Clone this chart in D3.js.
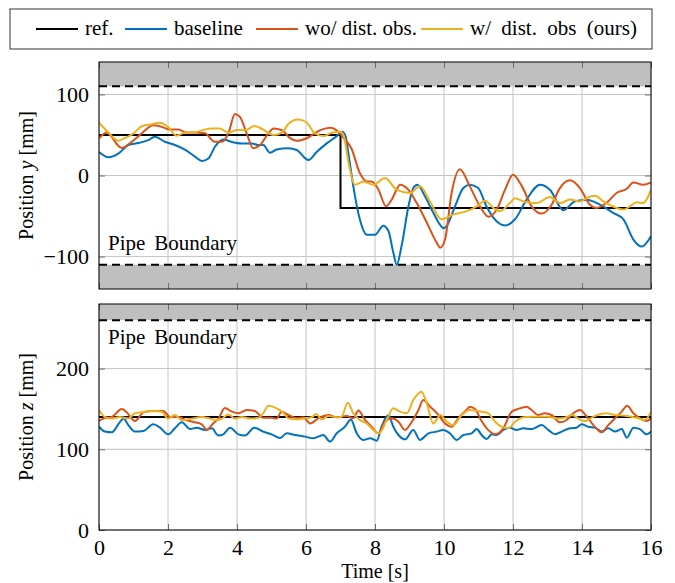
<!DOCTYPE html>
<html>
<head>
<meta charset="utf-8">
<script src="https://cdn.jsdelivr.net/npm/d3@7"></script>
<style>
  body { margin: 0; background: #fff; }
  text { font-family: "Liberation Serif", "Times New Roman", serif; }
</style>
</head>
<body>
<svg id="chart"></svg>
<script>
// ---- data ----
const timeTicks = [0, 2, 4, 6, 8, 10, 12, 14, 16];
const yTicksTop = [-100, 0, 100];
const zTicks = [0, 100, 200];
const legendLabels = ['ref.', 'baseline', 'wo/ dist. obs.', 'w/ dist. obs (ours)'];

// reference
const refTimeY = [0, 7, 7, 16];
const refY = [50, 50, -40, -40];
const refTimeZ = [0, 16];
const refZ = [140, 140];

// position y
const baselineTimeY = [0, 0.27, 0.56, 0.85, 1.14, 1.43, 1.62, 1.91, 2.2, 2.49, 2.78, 2.98, 3.17, 3.36, 3.6, 3.84, 4.14, 4.43, 4.62, 4.76, 4.96, 5.15, 5.49, 5.73, 6.07, 6.31, 6.6, 6.89, 7.05, 7.15, 7.23, 7.37, 7.56, 7.76, 8.0, 8.24, 8.39, 8.53, 8.63, 8.77, 8.97, 9.11, 9.23, 9.45, 9.69, 10.0, 10.08, 10.32, 10.56, 10.75, 10.99, 11.23, 11.43, 11.77, 12.06, 12.39, 12.78, 13.07, 13.46, 13.8, 14.14, 14.52, 14.9, 15.2, 15.49, 15.73, 16];
const baselineY = [29, 22.5, 27, 37.6, 40, 43.7, 47.8, 41.6, 37.6, 32, 23.3, 18, 21, 35.5, 44.5, 41.6, 39.6, 39.6, 37.6, 37.6, 28, 32, 33.5, 31.4, 19, 29, 39.6, 48.6, 54, 48, 27, -13, -54, -73, -73, -62, -68.5, -95, -110, -87, -38, -15.5, -11.5, -25.7, -46, -65, -62, -38, -15.5, -11.4, -15.5, -38, -52, -61.6, -54, -30, -11.4, -17.5, -42.8, -31.8, -29.8, -36, -46, -54, -79, -87.7, -75];

const woObsTimeY = [0, 0.22, 0.66, 0.95, 1.24, 1.57, 1.82, 2.06, 2.3, 2.54, 2.78, 3.07, 3.36, 3.56, 3.75, 3.94, 4.09, 4.28, 4.47, 4.67, 4.91, 5.06, 5.3, 5.54, 5.73, 6.02, 6.41, 6.7, 6.94, 7.08, 7.32, 7.56, 7.76, 7.9, 8.1, 8.32, 8.48, 8.73, 8.92, 9.21, 9.5, 9.79, 9.89, 10.03, 10.22, 10.46, 10.75, 11.04, 11.29, 11.53, 11.77, 12.0, 12.26, 12.54, 12.83, 13.12, 13.36, 13.65, 13.94, 14.23, 14.42, 14.71, 15.0, 15.29, 15.49, 15.77, 16];
const woObsY = [46, 52.7, 34, 41.6, 52, 62, 60, 56.7, 56.7, 53, 53, 52, 41.6, 41.6, 52, 76, 72, 52, 33.5, 37.5, 52, 58, 56, 46, 42.8, 46, 56, 59, 54, 47, 33, 3, -7.3, -7.3, -17.5, -38, -30, -11.4, -15.5, -34, -58, -83, -89, -79, -21.6, 7.8, -13.4, -38, -51, -42, -17.5, 0.9, -13.4, -38, -47, -36, -15.5, -6, -15.5, -36, -40, -33.8, -21.6, -16.7, -8.6, -11.4, -8.6];

const wObsTimeY = [0, 0.25, 0.56, 0.75, 1.0, 1.25, 1.5, 1.75, 2.0, 2.25, 2.5, 2.75, 3.0, 3.25, 3.5, 3.75, 4.0, 4.25, 4.5, 4.75, 5.05, 5.3, 5.5, 5.77, 6.0, 6.26, 6.5, 6.75, 7.0, 7.1, 7.25, 7.42, 7.66, 7.95, 8.29, 8.63, 9.01, 9.3, 9.59, 9.93, 10.27, 10.66, 10.95, 11.19, 11.43, 11.62, 11.91, 12.06, 12.3, 12.69, 13.07, 13.36, 13.65, 13.94, 14.14, 14.38, 14.62, 15.0, 15.2, 15.39, 15.58, 15.77, 16];
const wObsY = [65, 54, 43, 46, 52, 61, 63, 65, 60, 49, 53, 53, 56, 58, 58, 53, 56, 56, 61, 57, 50, 53, 64, 69, 66, 52, 48.6, 52.7, 54, 48, 12, -11.4, -7.3, -11.4, -3.2, -17.5, -21.6, -13.4, -31.8, -54, -48, -44, -38, -31, -40, -44, -34, -28, -32, -34, -26.5, -34, -29.7, -32, -27.7, -25, -32, -40, -42, -38, -33, -34, -17.5];

// position z
const baselineTimeZ = [0, 0.17, 0.37, 0.61, 0.71, 0.85, 1.04, 1.29, 1.57, 1.77, 2.0, 2.2, 2.4, 2.64, 2.83, 3.07, 3.27, 3.46, 3.6, 3.8, 4.04, 4.23, 4.5, 4.76, 5.0, 5.25, 5.44, 5.68, 5.97, 6.21, 6.5, 6.7, 6.89, 7.13, 7.3, 7.47, 7.66, 7.86, 8.05, 8.19, 8.39, 8.53, 8.68, 8.87, 9.11, 9.3, 9.55, 9.79, 9.98, 10.17, 10.37, 10.56, 10.8, 10.95, 11.09, 11.24, 11.38, 11.53, 11.72, 11.91, 12.1, 12.3, 12.54, 12.83, 13.02, 13.22, 13.41, 13.65, 13.84, 13.99, 14.18, 14.38, 14.57, 14.76, 14.96, 15.15, 15.3, 15.49, 15.68, 15.87, 16];
const baselineZ = [128, 122, 121, 134, 138, 130, 122, 122.7, 131, 126.8, 118.5, 126, 133.4, 125, 126.8, 124, 126, 117, 118.5, 126.8, 118.5, 117, 126.8, 121.9, 118.5, 114, 119.8, 117.7, 115.7, 113.6, 117.7, 109.5, 119.8, 128, 137, 119.8, 111.5, 113.6, 110.7, 128, 142.5, 128, 117.7, 112.3, 124, 111.5, 119.8, 121.9, 124, 119.8, 111.5, 117.7, 119.8, 125, 117.7, 112.8, 118.5, 117.7, 124, 126.8, 124, 126, 125, 130, 124, 118.5, 121.9, 126, 126.8, 131, 128, 126.8, 121.9, 126, 121.9, 125, 114.4, 126.8, 125, 118.5, 121.9];

const woObsTimeZ = [0, 0.12, 0.37, 0.66, 0.8, 1.04, 1.29, 1.57, 1.86, 2.06, 2.3, 2.54, 2.78, 2.98, 3.12, 3.31, 3.46, 3.65, 3.85, 4.04, 4.28, 4.52, 4.76, 5.0, 5.15, 5.29, 5.49, 5.73, 5.92, 6.12, 6.36, 6.65, 6.89, 7.18, 7.37, 7.52, 7.71, 7.9, 8.1, 8.29, 8.49, 8.68, 8.87, 9.07, 9.26, 9.4, 9.6, 9.84, 10.03, 10.22, 10.41, 10.65, 10.75, 10.9, 11.09, 11.28, 11.48, 11.72, 11.96, 12.15, 12.39, 12.54, 12.73, 12.92, 13.12, 13.36, 13.55, 13.75, 13.94, 14.14, 14.33, 14.57, 14.76, 14.96, 15.15, 15.31, 15.49, 15.68, 15.87, 16];
const woObsZ = [135, 138, 140, 150, 146, 135, 146, 147.5, 147.5, 140, 140, 136, 133.4, 131, 124, 132, 138, 151, 146.6, 144.6, 148.7, 147.5, 139, 139, 138, 146.6, 142.5, 138.4, 139.6, 132, 138.4, 142.5, 139.6, 141.3, 138.4, 147.9, 136.3, 128, 119.8, 134.2, 138.4, 134.2, 124, 134.2, 148.7, 161, 152.8, 142.5, 132, 128, 138.4, 148.7, 152.8, 150, 135, 124, 118.5, 126, 146.6, 150, 152.8, 148.7, 142.5, 144.6, 142.5, 133.4, 136.3, 144.6, 148.7, 140.4, 130, 121, 130, 138.4, 146.6, 154, 144.6, 138.4, 135, 138.4];

const wObsTimeZ = [0, 0.17, 0.37, 0.61, 0.85, 1.04, 1.33, 1.62, 1.82, 2.0, 2.2, 2.4, 2.69, 2.98, 3.22, 3.41, 3.56, 3.75, 3.94, 4.14, 4.38, 4.62, 4.76, 4.91, 5.15, 5.35, 5.49, 5.73, 5.97, 6.16, 6.3, 6.45, 6.65, 6.89, 7.03, 7.21, 7.37, 7.56, 7.76, 7.95, 8.12, 8.34, 8.53, 8.72, 8.92, 9.11, 9.35, 9.5, 9.69, 9.89, 10.08, 10.27, 10.51, 10.75, 11.09, 11.28, 11.48, 11.67, 11.86, 12.06, 12.3, 12.54, 12.83, 13.02, 13.26, 13.5, 13.7, 13.89, 14.08, 14.33, 14.52, 14.71, 14.96, 15.2, 15.44, 15.63, 15.82, 16];
const wObsZ = [148.7, 140, 138, 140, 138, 144.6, 146.6, 147.5, 146.6, 138, 142.5, 136, 138, 140, 138, 136, 138, 143, 138, 140, 138, 139, 144.6, 154, 150.8, 145, 138.4, 137.1, 138.4, 139.6, 143.7, 137.1, 141.3, 139.6, 140.4, 157.8, 144.6, 136.3, 132, 124, 119.8, 136.3, 150.8, 146.6, 144.6, 161, 171.4, 157, 132, 142.5, 134.2, 130, 142.5, 148.7, 146.6, 144.6, 134.2, 128, 126, 134.2, 139.6, 140.4, 140.4, 140.4, 138.4, 139.2, 142.5, 138.4, 135, 140.4, 143.3, 144.6, 142.5, 141.7, 140.4, 138.4, 136.3, 146.6];

// ---- layout ----
const width = 675;
const height = 583;
const plotLeft = 99;
const plotRight = 651;
const colors = ['#000000', '#0072BD', '#D95319', '#EDB120'];
const fontSize = 20;
const tickFontSize = 22;

const svg = d3.select('#chart').attr('width', width).attr('height', height);

const xScale = d3.scaleLinear().domain([0, 16]).range([plotLeft, plotRight]);

const zip = (ts, vs) => ts.map((t, i) => ({ t: t, v: vs[i] }));

// stretch the gaps between words so a label spans the wanted width
const fitWords = (sel, target) => {
  const len = sel.node().getComputedTextLength();
  const gaps = (sel.text().match(/ /g) || []).length;
  if (gaps > 0 && len < target) sel.attr('word-spacing', (target - len) / gaps);
};

const drawPanel = (cfg) => {
  const yScale = d3.scaleLinear().domain(cfg.domain).range([cfg.bottom, cfg.top]);
  const g = svg.append('g');
  const h = cfg.bottom - cfg.top;

  // grid
  g.selectAll('.vgrid').data(timeTicks).enter().append('line')
    .attr('x1', d => xScale(d)).attr('x2', d => xScale(d))
    .attr('y1', cfg.top).attr('y2', cfg.bottom)
    .attr('stroke', '#c4c4c4').attr('stroke-width', 1);
  g.selectAll('.hgrid').data(cfg.ticks).enter().append('line')
    .attr('x1', plotLeft).attr('x2', plotRight)
    .attr('y1', d => yScale(d)).attr('y2', d => yScale(d))
    .attr('stroke', '#c4c4c4').attr('stroke-width', 1);

  // pipe walls
  cfg.bands.forEach(b => {
    g.append('rect')
      .attr('x', plotLeft).attr('width', plotRight - plotLeft)
      .attr('y', yScale(b[1])).attr('height', yScale(b[0]) - yScale(b[1]))
      .attr('fill', '#bfbfbf');
  });

  // axes with inward ticks
  const axes = [
    d3.axisBottom(xScale).tickValues(timeTicks).tickSize(-6).tickPadding(9)
      .tickFormat(cfg.xLabels ? d3.format('d') : ''),
    d3.axisTop(xScale).tickValues(timeTicks).tickSize(-6).tickFormat(''),
    d3.axisLeft(yScale).tickValues(cfg.ticks).tickSize(-6).tickPadding(10)
      .tickFormat(d => d < 0 ? '\u2212' + Math.abs(d) : d),
    d3.axisRight(yScale).tickValues(cfg.ticks).tickSize(-6).tickFormat('')
  ];
  const pos = [
    `translate(0,${cfg.bottom})`, `translate(0,${cfg.top})`,
    `translate(${plotLeft},0)`, `translate(${plotRight},0)`
  ];
  axes.forEach((ax, i) => {
    const a = g.append('g').attr('transform', pos[i]).call(ax);
    a.attr('font-family', null);
    a.select('.domain').remove();
    a.selectAll('line').attr('stroke', '#6e6e6e');
    a.selectAll('text').attr('font-size', tickFontSize).attr('fill', '#000');
  });

  // boundary lines
  cfg.walls.forEach(w => {
    g.append('line')
      .attr('x1', plotLeft).attr('x2', plotRight)
      .attr('y1', yScale(w)).attr('y2', yScale(w))
      .attr('stroke', '#000').attr('stroke-width', 2)
      .attr('stroke-dasharray', '8,5');
  });

  // clip
  const clipId = 'clip-' + cfg.name;
  svg.append('clipPath').attr('id', clipId).append('rect')
    .attr('x', plotLeft).attr('y', cfg.top)
    .attr('width', plotRight - plotLeft).attr('height', h);

  const line = d3.line()
    .x(d => xScale(d.t))
    .y(d => yScale(d.v))
    .curve(d3.curveMonotoneX);

  const refLine = d3.line().x(d => xScale(d.t)).y(d => yScale(d.v));

  const lines = g.append('g').attr('clip-path', `url(#${clipId})`);
  lines.append('path')
    .datum(zip(cfg.ref[0], cfg.ref[1]))
    .attr('d', refLine)
    .attr('fill', 'none').attr('stroke', colors[0]).attr('stroke-width', 2);
  cfg.series.forEach((s, i) => {
    lines.append('path')
      .datum(zip(s[0], s[1]))
      .attr('d', line)
      .attr('fill', 'none')
      .attr('stroke', colors[i + 1])
      .attr('stroke-width', 2)
      .attr('stroke-linejoin', 'round');
  });

  // frame
  g.append('rect')
    .attr('x', plotLeft).attr('y', cfg.top)
    .attr('width', plotRight - plotLeft).attr('height', h)
    .attr('fill', 'none').attr('stroke', '#000').attr('stroke-width', 1);

  // label inside
  const pipe = g.append('text')
    .attr('x', 108).attr('y', cfg.pipeY)
    .attr('font-size', 21)
    .text('Pipe Boundary');
  fitWords(pipe, 129);

  // y title
  const yt = g.append('text')
    .attr('transform', `translate(33,${(cfg.top + cfg.bottom) / 2}) rotate(-90)`)
    .attr('text-anchor', 'middle')
    .attr('font-size', fontSize);
  yt.append('tspan').text('Position ');
  yt.append('tspan').attr('font-style', 'italic').text(cfg.axisVar);
  yt.append('tspan').text(' [mm]');
};

drawPanel({
  name: 'y', top: 62, bottom: 289, domain: [-140, 140], ticks: yTicksTop,
  bands: [[110, 140], [-140, -110]], walls: [110, -110],
  ref: [refTimeY, refY],
  series: [[baselineTimeY, baselineY], [woObsTimeY, woObsY], [wObsTimeY, wObsY]],
  pipeY: 250, axisVar: 'y', xLabels: false
});

drawPanel({
  name: 'z', top: 304, bottom: 530, domain: [0, 280], ticks: zTicks,
  bands: [[260, 280]], walls: [260],
  ref: [refTimeZ, refZ],
  series: [[baselineTimeZ, baselineZ], [woObsTimeZ, woObsZ], [wObsTimeZ, wObsZ]],
  pipeY: 344, axisVar: 'z', xLabels: true
});

svg.append('text')
  .attr('x', (plotLeft + plotRight) / 2).attr('y', 578)
  .attr('text-anchor', 'middle')
  .attr('font-size', fontSize)
  .text('Time [s]');

// legend
const legend = svg.append('g');
legend.append('rect')
  .attr('x', 10).attr('y', 9).attr('width', 642).attr('height', 40)
  .attr('fill', '#fff').attr('stroke', '#333').attr('stroke-width', 1);
const legendX = [36, 125, 256, 421];
const legendTextLen = [30, 69, 106, 167];
legendLabels.forEach((lab, i) => {
  legend.append('line')
    .attr('x1', legendX[i]).attr('x2', legendX[i] + 42)
    .attr('y1', 29).attr('y2', 29)
    .attr('stroke', colors[i]).attr('stroke-width', 2);
  const t = legend.append('text')
    .attr('x', legendX[i] + 49).attr('y', 35)
    .attr('font-size', 21)
    .text(lab);
  fitWords(t, legendTextLen[i]);
});
</script>
</body>
</html>
